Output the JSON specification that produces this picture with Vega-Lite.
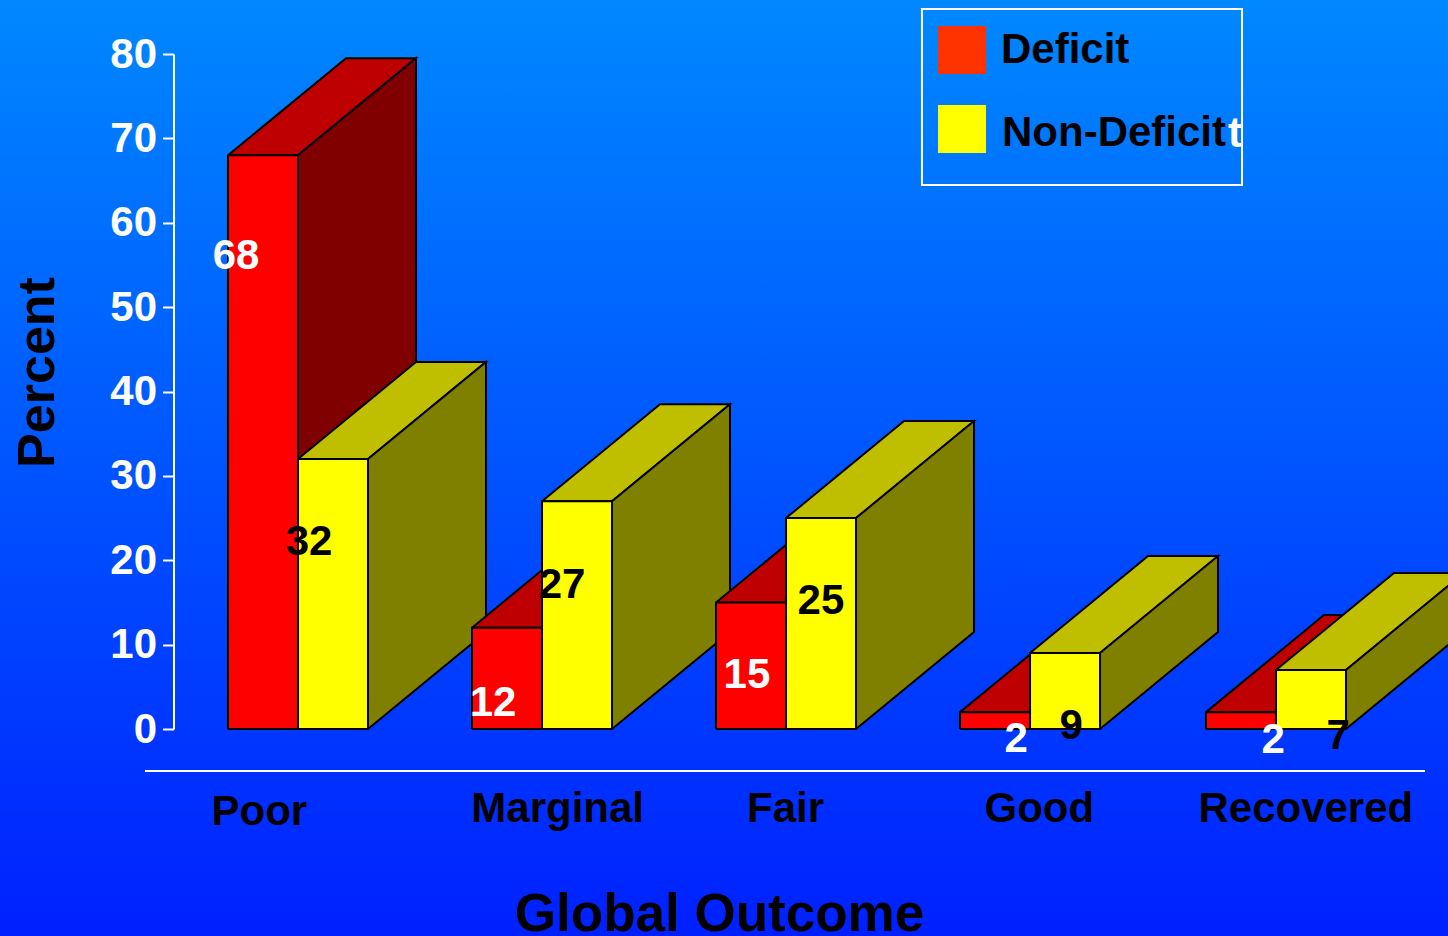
{
"$schema":"https://vega.github.io/schema/vega-lite/v6.json",
"width":1448,"height":936,"padding":0,"autosize":{"type":"none"},
"background":"#0050ff",
"view":{"stroke":null,"fill":{"gradient":"linear","x1":0,"y1":0,"x2":0,"y2":1,"stops":[{"offset":0,"color":"#0088ff"},{"offset":1,"color":"#0020ff"}]}},
"config":{"font":"Liberation Sans","axis":{"grid":false,"labelFont":"Liberation Sans","labelFontWeight":"bold","labelFontSize":42,"titleFont":"Liberation Sans","titleFontWeight":"bold","titleColor":"black"}},
"data":{"values":[
{"outcome":"Poor","group":"Deficit","percent":68},
{"outcome":"Poor","group":"Non-Deficit","percent":32},
{"outcome":"Marginal","group":"Deficit","percent":12},
{"outcome":"Marginal","group":"Non-Deficit","percent":27},
{"outcome":"Fair","group":"Deficit","percent":15},
{"outcome":"Fair","group":"Non-Deficit","percent":25},
{"outcome":"Good","group":"Deficit","percent":2},
{"outcome":"Good","group":"Non-Deficit","percent":9},
{"outcome":"Recovered","group":"Deficit","percent":2},
{"outcome":"Recovered","group":"Non-Deficit","percent":7}
]},
"layer":[
{
"transform":[
{"calculate":"{'Poor':0,'Marginal':0.998,'Fair':1.996,'Good':2.994,'Recovered':4}[datum.outcome]+(datum.group==='Deficit'?-0.2863:0)","as":"l"},
{"calculate":"['top','side','front']","as":"face"},
{"flatten":["face"]},
{"calculate":"datum.face==='front'?[datum.l,datum.l+0.2863,datum.l+0.2863,datum.l,datum.l]:datum.face==='top'?[datum.l,datum.l+0.2863,datum.l+0.7689,datum.l+0.4826,datum.l]:[datum.l+0.2863,datum.l+0.7689,datum.l+0.7689,datum.l+0.2863,datum.l+0.2863]","as":"xs"},
{"calculate":"datum.face==='front'?[0,0,datum.percent,datum.percent,0]:datum.face==='top'?[datum.percent,datum.percent,datum.percent+11.5,datum.percent+11.5,datum.percent]:[0,11.5,datum.percent+11.5,datum.percent,0]","as":"ys"},
{"calculate":"[0,1,2,3,4]","as":"vertex"},
{"flatten":["xs","ys","vertex"]},
{"calculate":"datum.group+' '+datum.face","as":"faceKey"},
{"calculate":"datum.outcome+' '+datum.group+' '+datum.face","as":"faceId"}
],
"mark":{"type":"line","stroke":"black","strokeWidth":2,"strokeJoin":"miter"},
"encoding":{
"x":{"field":"xs","type":"quantitative","scale":{"domain":[-1.2188,4.7035],"nice":false,"zero":false},
"axis":{"orient":"bottom","offset":-165,"domain":false,"ticks":false,"labelColor":"black","labelLimit":400,"labelPadding":{"condition":{"test":"datum.value<0","value":20},"value":17},"labelOverlap":false,"labelFlush":false,"values":[-0.16,1.06,1.992,3.03,4.12],
"labelExpr":"datum.value<0?'Poor':datum.value<1.5?'Marginal':datum.value<2.5?'Fair':datum.value<3.5?'Good':'Recovered'",
"title":"Global Outcome","titleFontSize":53,"titleX":719,"titleY":159,"titleAlign":"center","titleBaseline":"alphabetic"}},
"y":{"field":"ys","type":"quantitative","scale":{"domain":[0,80],"range":[729,54],"nice":false,"zero":false},
"axis":{"orient":"left","offset":-173.5,"values":[0,10,20,30,40,50,60,70,80],"domainColor":"white","domainWidth":2,"tickColor":"white","tickWidth":2,"tickSize":11,"labelColor":"white","labelPadding":6,
"title":"Percent","titleFontSize":52,"titleAngle":-90,"titleX":-120.5,"titleY":372,"titleAlign":"center","titleBaseline":"alphabetic"}},
"fill":{"field":"faceKey","type":"nominal","legend":null,"scale":{"domain":["Deficit front","Deficit top","Deficit side","Non-Deficit front","Non-Deficit top","Non-Deficit side"],"range":["#ff0000","#bf0000","#800000","#ffff00","#bfbf00","#808000"]}},
"detail":{"field":"faceId"},
"order":{"field":"vertex","type":"quantitative"}
}
},
{
"transform":[
{"calculate":"{'Poor|Deficit':-0.2536,'Poor|Non-Deficit':0.045,'Marginal|Deficit':0.7975,'Marginal|Non-Deficit':1.08,'Fair|Deficit':1.836,'Fair|Non-Deficit':2.139,'Good|Deficit':2.937,'Good|Non-Deficit':3.162,'Recovered|Deficit':3.988,'Recovered|Non-Deficit':4.254}[datum.outcome+'|'+datum.group]","as":"labelX"},
{"calculate":"{'Poor|Deficit':56.2,'Poor|Non-Deficit':22.3,'Marginal|Deficit':3.2,'Marginal|Non-Deficit':17.2,'Fair|Deficit':6.5,'Fair|Non-Deficit':15.3,'Good|Deficit':-1.07,'Good|Non-Deficit':0.47,'Recovered|Deficit':-1.19,'Recovered|Non-Deficit':-0.71}[datum.outcome+'|'+datum.group]","as":"labelY"}
],
"mark":{"type":"text","font":"Liberation Sans","fontWeight":"bold","fontSize":42,"align":"center","baseline":"middle","dy":1},
"encoding":{
"x":{"field":"labelX","type":"quantitative","scale":{"domain":[-1.2188,4.7035],"nice":false,"zero":false}},
"y":{"field":"labelY","type":"quantitative","scale":{"domain":[0,80],"range":[729,54],"nice":false,"zero":false}},
"text":{"field":"percent","type":"quantitative"},
"color":{"condition":{"test":"datum.group==='Deficit'","value":"white"},"value":"black"}
}
},
{
"mark":{"type":"point","filled":true,"size":0,"opacity":0},
"encoding":{
"color":{"field":"group","type":"nominal","scale":{"domain":["Deficit","Non-Deficit"],"range":["#ff3300","#ffff00"]},
"legend":{"orient":"none","legendX":938,"legendY":26,"padding":0,"title":null,"symbolType":"square","symbolSize":2304,"symbolOpacity":1,"symbolStrokeWidth":0,"labelFont":"Liberation Sans","labelFontWeight":"bold","labelFontSize":42,"labelColor":"black","labelOffset":15,"rowPadding":31,"labelLimit":400,
"encode":{"labels":{"update":{"dy":{"signal":"datum.value==='Non-Deficit'?4:0"},"dx":{"signal":"datum.value==='Non-Deficit'?1:0"}}}}}}
}
},
{
"data":{"values":[{"label":"t"}]},
"mark":{"type":"text","font":"Liberation Sans","fontWeight":"bold","fontSize":42,"color":"white","align":"center","baseline":"alphabetic"},
"encoding":{
"x":{"datum":3.832,"type":"quantitative","scale":{"domain":[-1.2188,4.7035],"nice":false,"zero":false}},
"y":{"datum":68.98,"type":"quantitative","scale":{"domain":[0,80],"range":[729,54],"nice":false,"zero":false}},
"text":{"field":"label"}
}
},
{
"data":{"values":[{"label":"box"}]},
"mark":{"type":"rect","filled":false,"stroke":"white","strokeWidth":2},
"encoding":{
"x":{"datum":2.552,"type":"quantitative","scale":{"domain":[-1.2188,4.7035],"nice":false,"zero":false}},
"x2":{"datum":3.861},
"y":{"datum":85.33,"type":"quantitative","scale":{"domain":[0,80],"range":[729,54],"nice":false,"zero":false}},
"y2":{"datum":64.47}
}
},
{
"data":{"values":[{"label":"baseline"}]},
"mark":{"type":"rule","stroke":"white","strokeWidth":2},
"encoding":{
"x":{"datum":-0.6258,"type":"quantitative","scale":{"domain":[-1.2188,4.7035],"nice":false,"zero":false}},
"x2":{"datum":4.6094},
"y":{"datum":-4.98,"type":"quantitative","scale":{"domain":[0,80],"range":[729,54],"nice":false,"zero":false}}
}
}
]
}
